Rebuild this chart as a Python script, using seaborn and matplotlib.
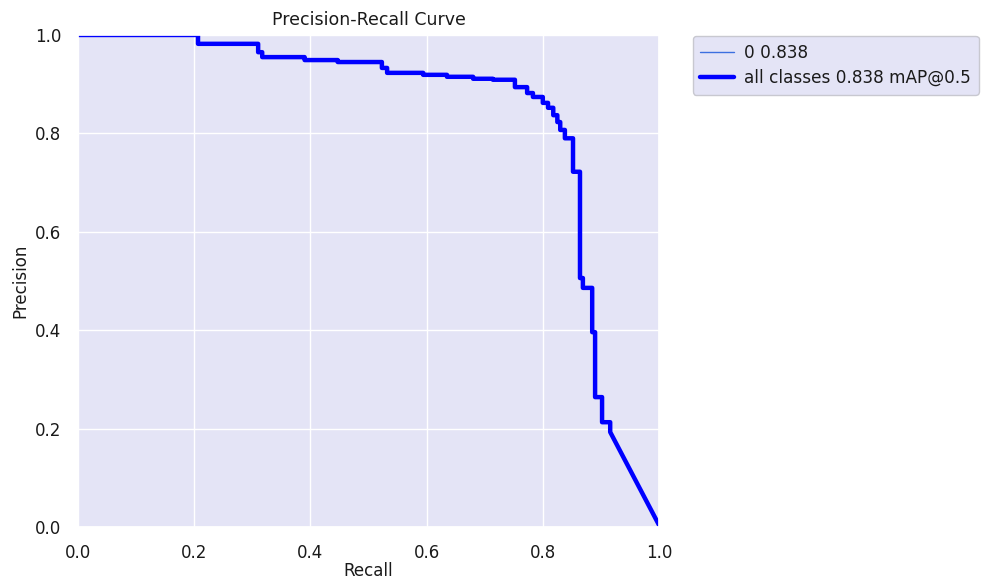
import matplotlib
matplotlib.use("Agg")
import matplotlib.pyplot as plt
import seaborn as sns
import pandas as pd

recall = [0.0, 0.2065, 0.2065, 0.31, 0.31, 0.317, 0.317, 0.39, 0.39, 0.447, 0.447,
          0.523, 0.523, 0.532, 0.532, 0.594, 0.594, 0.635, 0.635, 0.68, 0.68,
          0.714, 0.714, 0.752, 0.752, 0.773, 0.773, 0.783, 0.783, 0.800, 0.800,
          0.809, 0.809, 0.818, 0.818, 0.825, 0.825, 0.830, 0.830, 0.838, 0.838,
          0.852, 0.852, 0.864, 0.864, 0.869, 0.869, 0.885, 0.885, 0.890, 0.890,
          0.902, 0.902, 0.916, 0.916, 1.0]
precision = [1.0, 1.0, 0.982, 0.982, 0.965, 0.965, 0.955, 0.955, 0.949, 0.949, 0.945,
             0.945, 0.933, 0.933, 0.923, 0.923, 0.919, 0.919, 0.915, 0.915, 0.911,
             0.911, 0.909, 0.909, 0.894, 0.894, 0.882, 0.882, 0.874, 0.874, 0.862,
             0.862, 0.852, 0.852, 0.837, 0.837, 0.823, 0.823, 0.807, 0.807, 0.79,
             0.79, 0.722, 0.722, 0.506, 0.506, 0.486, 0.486, 0.396, 0.396, 0.264,
             0.264, 0.213, 0.213, 0.193, 0.004]

class_label = "0 0.838"
all_label = "all classes 0.838 mAP@0.5"
x_ticks = [0.0, 0.2, 0.4, 0.6, 0.8, 1.0]
y_ticks = [0.0, 0.2, 0.4, 0.6, 0.8, 1.0]

sns.set_theme(style="darkgrid", rc={
    "axes.facecolor": "#E4E4F6",
    "grid.color": "white",
    "grid.linewidth": 1.0,
    "text.color": "#1a1a1a",
    "axes.labelcolor": "#1a1a1a",
    "xtick.color": "#1a1a1a",
    "ytick.color": "#1a1a1a",
})
plt.rcParams['font.family'] = ['DejaVu Sans']

df = pd.DataFrame({"Recall": recall, "Precision": precision})

fig = plt.figure(figsize=(9.88, 5.79), dpi=100)
ax = fig.add_axes([0.079, 0.0898, 0.588, 0.8498])

sns.lineplot(data=df, x="Recall", y="Precision", ax=ax, sort=False, estimator=None,
             color="#3C6FE0", linewidth=1, label=class_label)
sns.lineplot(data=df, x="Recall", y="Precision", ax=ax, sort=False, estimator=None,
             color="blue", linewidth=3.2, label=all_label)

ax.set_xlim(0, 1)
ax.set_ylim(0, 1)
ax.set_xticks(x_ticks)
ax.set_yticks(y_ticks)
ax.tick_params(labelsize=12, pad=6)
ax.set_xlabel("Recall", fontsize=12, labelpad=0)
ax.set_ylabel("Precision", fontsize=12, labelpad=4)
ax.set_title("Precision-Recall Curve", fontsize=12.5, pad=7)

leg = ax.legend(loc="upper left", bbox_to_anchor=(1.058, 0.998), borderaxespad=0,
                fontsize=12.2, frameon=True, facecolor="#E4E4F6", edgecolor="#C8C8D0",
                framealpha=1, handlelength=2.0, handletextpad=0.6, borderpad=0.45,
                labelspacing=0.45)

fig.savefig("out.png", dpi=100)
